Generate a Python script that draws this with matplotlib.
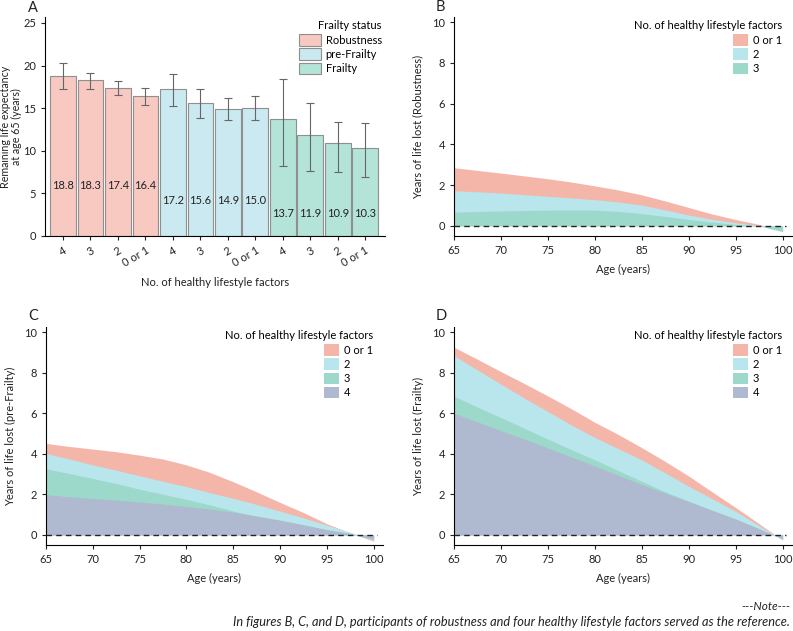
import matplotlib
matplotlib.use("Agg")
import matplotlib.pyplot as plt
from matplotlib.patches import Patch
import numpy as np

plt.rcParams['font.family'] = ['Lato', 'DejaVu Sans']

# ---- Panel A data ----
bar_labels = ["4", "3", "2", "0 or 1"] * 3
groups = ["Robustness", "pre-Frailty", "Frailty"]
le_values = [18.8, 18.3, 17.4, 16.4, 17.2, 15.6, 14.9, 15.0, 13.7, 11.9, 10.9, 10.3]
le_lower = [17.3, 17.3, 16.6, 15.35, 15.2, 13.9, 13.6, 13.6, 8.2, 7.6, 7.5, 6.9]
le_upper = [20.3, 19.1, 18.2, 17.4, 19.0, 17.2, 16.2, 16.4, 18.4, 15.6, 13.4, 13.3]
group_colors = ["#f7c9c1", "#cbe9f0", "#b4e3d8"]
label_heights = [5.9, 4.2, 2.65]

# ---- Panels B-D data ----
ages = [65, 67.5, 70, 72.5, 75, 77.5, 80, 82.5, 85, 87.5, 90, 92.5, 95, 97.5, 100]
factor_labels = ["0 or 1", "2", "3", "4"]
area_colors = ["#f5b6aa", "#b9e5ec", "#9cd9ca", "#afb9cf"]

rob_0or1 = [2.85, 2.72, 2.59, 2.45, 2.31, 2.15, 1.96, 1.76, 1.52, 1.22, 0.90, 0.58, 0.31, 0.07, -0.25]
rob_2 = [1.72, 1.67, 1.61, 1.53, 1.45, 1.37, 1.28, 1.17, 1.02, 0.78, 0.53, 0.32, 0.15, 0.02, -0.25]
rob_3 = [0.67, 0.70, 0.73, 0.75, 0.77, 0.78, 0.77, 0.71, 0.60, 0.46, 0.31, 0.18, 0.07, 0.00, -0.29]

pre_0or1 = [4.51, 4.36, 4.23, 4.10, 3.93, 3.74, 3.45, 3.08, 2.62, 2.12, 1.60, 1.10, 0.55, 0.10, -0.31]
pre_2 = [4.02, 3.74, 3.45, 3.19, 2.91, 2.64, 2.38, 2.08, 1.80, 1.50, 1.17, 0.84, 0.48, 0.13, -0.25]
pre_3 = [3.26, 3.02, 2.78, 2.53, 2.25, 2.00, 1.75, 1.48, 1.18, 0.90, 0.70, 0.47, 0.24, 0.05, -0.22]
pre_4 = [1.98, 1.88, 1.79, 1.72, 1.62, 1.52, 1.40, 1.27, 1.12, 0.93, 0.73, 0.50, 0.26, 0.07, -0.20]

fra_0or1 = [9.25, 8.66, 8.05, 7.46, 6.85, 6.22, 5.55, 4.95, 4.30, 3.62, 2.90, 2.12, 1.35, 0.55, -0.26]
fra_2 = [8.84, 8.13, 7.43, 6.74, 6.08, 5.42, 4.80, 4.25, 3.70, 3.05, 2.40, 1.78, 1.16, 0.45, -0.25]
fra_3 = [6.84, 6.30, 5.78, 5.25, 4.72, 4.20, 3.70, 3.17, 2.64, 2.12, 1.66, 1.22, 0.78, 0.30, -0.20]
fra_4 = [6.00, 5.57, 5.14, 4.72, 4.28, 3.84, 3.40, 2.94, 2.48, 2.06, 1.64, 1.20, 0.78, 0.30, -0.20]

W, H = 793, 631
fig = plt.figure(figsize=(W / 100, H / 100), dpi=100)


def ax_px(l, r, t, b):
    return fig.add_axes([l / W, (H - b) / H, (r - l) / W, (b - t) / H])


text_col = "#222222"
fs = 8

# ---------------- Panel A ----------------
axA = ax_px(45, 385, 17, 236)
x = np.arange(len(le_values))
cols = [group_colors[i // 4] for i in range(len(le_values))]
axA.bar(x, le_values, width=0.93, color=cols, edgecolor="#8f8f8f", linewidth=0.8, zorder=2)
err = [np.array(le_values) - np.array(le_lower), np.array(le_upper) - np.array(le_values)]
axA.errorbar(x, le_values, yerr=err, fmt="none", ecolor="#666666", elinewidth=0.8,
             capsize=3, capthick=0.8, zorder=3)
for i, v in enumerate(le_values):
    axA.text(x[i], label_heights[i // 4], f"{v:.1f}", ha="center", va="center",
             fontsize=fs, color=text_col, zorder=4)
axA.set_xlim(-0.65, 11.72)
axA.set_ylim(0, 25.7)
axA.set_yticks([0, 5, 10, 15, 20, 25])
axA.set_xticks(x)
axA.set_xticklabels(bar_labels, rotation=30, ha="right", rotation_mode="anchor")
axA.set_ylabel("Remaining life expectancy\nat age 65 (years)", fontsize=7.7, color=text_col,
               linespacing=0.95)
axA.yaxis.set_label_coords(-0.068, 0.5)
axA.set_xlabel("No. of healthy lifestyle factors", fontsize=fs, color=text_col, labelpad=6)
axA.spines["top"].set_visible(False)
axA.spines["right"].set_visible(False)
axA.tick_params(labelsize=fs, colors=text_col, length=3, width=0.8)
handles = [Patch(facecolor=c, edgecolor="#8f8f8f", linewidth=0.8, label=g)
           for c, g in zip(group_colors, groups)]
axA.legend(handles=handles, title="Frailty status", loc="upper right",
           bbox_to_anchor=(1.02, 1.03), frameon=False, fontsize=fs,
           title_fontsize=fs, handlelength=2.0, handleheight=1.2,
           handletextpad=0.4, labelspacing=0.25, alignment="right")


def area_panel(ax, series, ylabel):
    for vals, c in zip(series, area_colors):
        ax.fill_between(ages, 0, vals, color=c, linewidth=0, zorder=2)
    ax.plot([65, 100.4], [0, 0], ls=(0, (4, 3)), color="#222222", lw=1.0, zorder=3)
    ax.set_xlim(65, 101)
    ax.set_ylim(-0.5, 10.25)
    ax.set_xticks([65, 70, 75, 80, 85, 90, 95, 100])
    ax.set_yticks([0, 2, 4, 6, 8, 10])
    ax.spines["top"].set_visible(False)
    ax.spines["right"].set_visible(False)
    ax.tick_params(labelsize=fs, colors=text_col, length=3, width=0.8)
    ax.set_xlabel("Age (years)", fontsize=fs, color=text_col, labelpad=6)
    ax.set_ylabel(ylabel, fontsize=fs, color=text_col, labelpad=6)
    hs = [Patch(facecolor=c, edgecolor="none", label=l)
          for c, l in zip(area_colors[:len(series)], factor_labels[:len(series)])]
    ax.legend(handles=hs, title="No. of healthy lifestyle factors", loc="upper right",
              bbox_to_anchor=(1.0, 1.03), frameon=False, fontsize=fs, title_fontsize=fs,
              handlelength=1.4, handleheight=1.2, handletextpad=0.4, labelspacing=0.25,
              alignment="right")


axB = ax_px(454, 792, 17, 236)
area_panel(axB, [rob_0or1, rob_2, rob_3], "Years of life lost (Robustness)")
axC = ax_px(46, 383, 327, 545)
area_panel(axC, [pre_0or1, pre_2, pre_3, pre_4], "Years of life lost (pre-Frailty)")
axD = ax_px(454, 792, 327, 545)
area_panel(axD, [fra_0or1, fra_2, fra_3, fra_4], "Years of life lost (Frailty)")

for letter, px, py in [("A", 33, 8), ("B", 440, 7), ("C", 33, 316), ("D", 441, 316)]:
    fig.text(px / W, 1 - py / H, letter, ha="center", va="center", fontsize=10.5, color=text_col)

fig.text(790 / W, 1 - 607 / H, "---Note---", ha="right", va="center", fontsize=8.5,
         style="italic", color=text_col)
fig.text(790 / W, 1 - 622 / H,
         "In figures B, C, and D, participants of robustness and four healthy lifestyle factors served as the reference.",
         ha="right", va="center", fontsize=9.2, style="italic", color=text_col)

fig.savefig("out.png", dpi=100)
